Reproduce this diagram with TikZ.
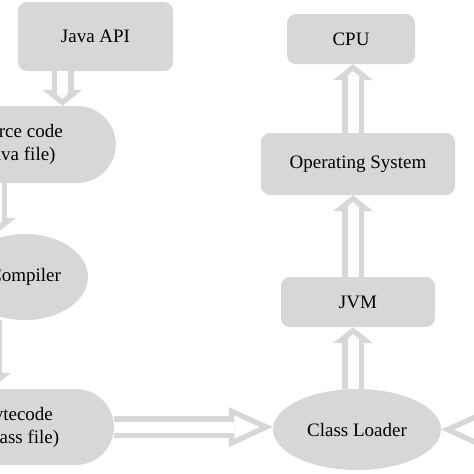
\documentclass[tikz,border=0pt]{standalone}
\usepackage{fontspec}
\setmainfont{Liberation Serif}
\usepackage{tikz}
\usetikzlibrary{calc, shapes.geometric, shapes.misc}
\usetikzlibrary{arrows.meta}
\definecolor{shade}{RGB}{215,215,215}
\tikzset{
  box/.style={rectangle, rounded corners=9pt, fill=shade, inner sep=2pt},
  oval/.style={ellipse, fill=shade, inner sep=2pt},
  pill/.style={rounded rectangle, rounded rectangle west arc=none, fill=shade, align=center, inner sep=2pt},
  flow/.style={draw=shade, line width=22pt, -{Triangle[length=16pt, width=40pt, line width=0pt]},
    postaction={draw=white, line width=11pt, shorten >=7pt, -{Triangle[length=4.4pt, width=11pt, line width=0pt]}}},
  longflow/.style={draw=shade, line width=22pt, -{Triangle[length=44pt, width=40pt, line width=0pt]},
    postaction={draw=white, line width=11pt, shorten >=13.3pt, -{Triangle[length=25.2pt, width=23pt, line width=0pt]}}}
}

\begin{document}
\begin{tikzpicture}[x=1pt, y=1pt, font=\fontsize{19}{23}\selectfont]
    \useasboundingbox (0,0) rectangle (474,-474);
    \clip (0,0) rectangle (474,-474);
    \node[box, minimum width=155pt, minimum height=69pt] (API) at (95.5,-36.5) {Java API};
    \node[pill, minimum width=198pt, minimum height=77pt] (Src) at (16,-144.5) {Source code\\(.java file)};
    \node[oval, minimum width=126pt, minimum height=86pt] (Comp) at (25,-277) {Compiler};
    \node[pill, minimum width=192pt, minimum height=76pt] (Byte) at (17,-427) {Bytecode\\(.class file)};
    \node[oval, minimum width=168pt, minimum height=81pt] (Loader) at (357,-429.5) {Class Loader};
    \node[box, minimum width=154pt, minimum height=50pt] (JVM) at (358,-302) {JVM};
    \node[box, minimum width=194pt, minimum height=62pt] (OS) at (358,-164) {Operating System};
    \node[box, minimum width=128pt, minimum height=50pt] (CPU) at (351,-39) {CPU};
    \coordinate (Spine) at (353,0);
    \coordinate (Feed) at (540,-430);
    \draw[flow] ([xshift=-33pt]API.south) -- ([xshift=-33pt]API.south |- Src.north);
    \draw[flow] ([xshift=-20pt]Src.south) -- ([xshift=-20pt]Src.south |- Comp.north);
    \draw[flow] ([xshift=-34pt]Comp.south) -- ([xshift=-34pt]Comp.south |- Byte.north);
    \draw[longflow] (Byte.east) -- (Byte.east -| Loader.west);
    \draw[longflow] (Feed) -- (Loader.east);
    \draw[flow] (Spine |- Loader.north) -- (Spine |- JVM.south);
    \draw[flow] (Spine |- JVM.north) -- (Spine |- OS.south);
    \draw[flow] (Spine |- OS.north) -- (Spine |- CPU.south);
  \end{tikzpicture}
\end{document}
